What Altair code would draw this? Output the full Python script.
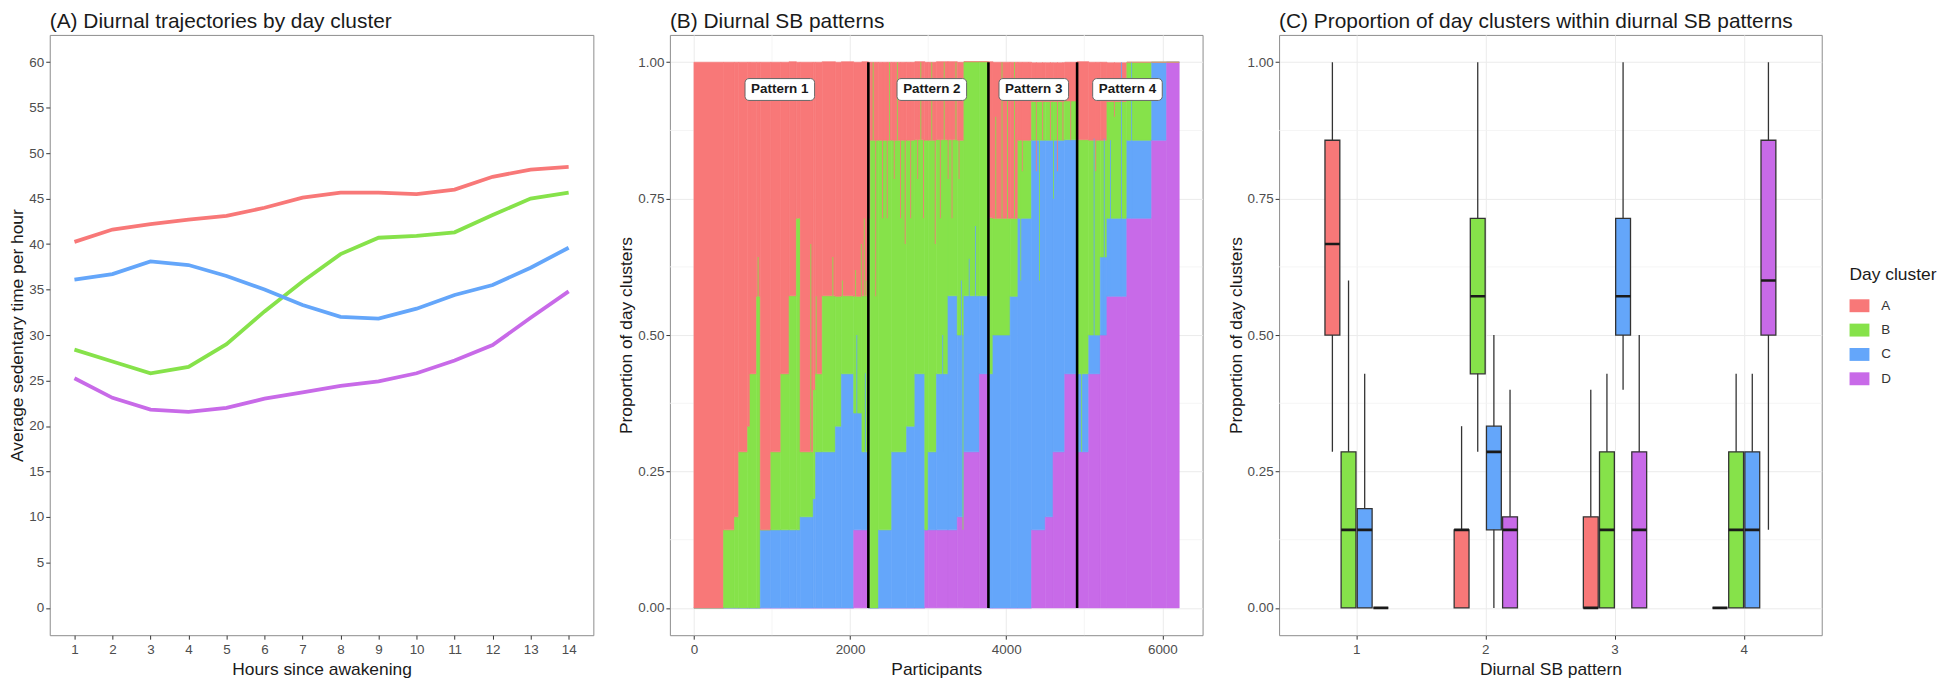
import altair as alt
import pandas as pd

# ---------------- shared ----------------
clusters = ["A", "B", "C", "D"]
cluster_colors = ["#F87878", "#86E24A", "#64A6FA", "#C86AE8"]
FONT = "Liberation Sans"

# ---------------- panel A data ----------------
hours = list(range(1, 15))
traj_A = [40.25, 41.6, 42.2, 42.7, 43.1, 44.0, 45.1, 45.65, 45.65, 45.5, 46.0, 47.4, 48.2, 48.5]
traj_B = [28.4, 27.1, 25.8, 26.5, 29.0, 32.6, 35.9, 38.9, 40.7, 40.9, 41.3, 43.2, 45.0, 45.65]
traj_C = [36.1, 36.7, 38.1, 37.7, 36.5, 35.0, 33.3, 32.0, 31.8, 32.9, 34.4, 35.5, 37.4, 39.6]
traj_D = [25.25, 23.1, 21.8, 21.55, 22.0, 23.0, 23.7, 24.4, 24.9, 25.8, 27.2, 28.9, 31.9, 34.8]
y_ticks_A = list(range(0, 61, 5))

# ---------------- panel B data (participants sorted, blocks of similar composition) ----------------
seg_start = [0, 379, 519, 574, 688, 718, 803, 850, 985, 1113, 1219, 1312, 1360, 1528, 1558, 1643, 1812, 1889, 2046, 2152,
             2234, 2260, 2364, 2533, 2724, 2830, 2957, 3000, 3106, 3254, 3373, 3458, 3657,
             3772, 3830, 4050, 4150, 4324, 4500, 4600, 4750,
             4908, 5057, 5205, 5290, 5545, 5863, 6054]
seg_end = seg_start[1:] + [6216]
prop_D = [0, 0, 0, 0, 0, 0, 0, 0, 0, 0, 0, 0, 0, 0, 0, 0, 0, 0, .143, .143,
          0, 0, 0, 0, 0, 0, .143, .143, .143, .143, .167, .286, .429,
          0, 0, 0, 0, .143, .167, .286, .429,
          .286, .429, .5, .571, .714, .857, 1]
prop_C = [0, 0, 0, 0, 0, 0, 0, .143, .143, .143, .143, .143, .167, .2, .286, .286, .333, .429, .214, .143,
          0, 0, .143, .286, .333, .429, 0, .143, .286, .429, .333, .286, .143,
          .429, .5, .571, .714, .714, .69, .571, .429,
          .143, .071, .143, .143, .143, .143, 0]
prop_B = [0, .143, .167, .286, .333, .429, .571, 0, .143, .286, .429, .571, .119, .2, .143, .286, .238, .143, .214, .286,
          .714, .857, .714, .571, .524, .429, .714, .571, .429, .286, .357, .429, .429,
          .286, .214, .143, .143, .071, .071, .071, .071,
          .429, .357, .214, .214, .143, 0, 0]
prop_A = [1, .857, .833, .714, .667, .571, .429, .857, .714, .571, .429, .286, .714, .6, .571, .429, .429, .429, .429, .429,
          .286, .143, .143, .143, .143, .143, .143, .143, .143, .143, .143, 0, 0,
          .286, .286, .286, .143, .071, .071, .071, .071,
          .143, .143, .143, .071, 0, 0, 0]

# thin slivers that cut through the blocks
sliver_start = [816, 1346, 1491, 1560, 1773, 1895, 2065, 2138, 2176, 2200, 2080, 2190,
                2322, 2410, 2470, 2560, 2640, 2700, 2770, 2860, 2935, 3085, 3150, 3250, 3300, 3390,
                2290, 2500, 2600, 2900, 3040, 3200, 3350, 3180, 3420, 3520, 3600, 3440,
                3860, 3940, 4010, 4100, 4200, 4280, 4380, 4460, 4560, 4650, 4720, 4820, 4180, 4420, 4600,
                5120, 5250, 5330, 5470, 5600, 5140, 5220, 5380, 4960]
sliver_cluster = ["B", "B", "B", "B", "B", "B", "B", "B", "B", "B", "C", "C",
                  "A", "A", "A", "A", "A", "A", "A", "A", "A", "A", "A", "A", "A", "A",
                  "B", "B", "B", "B", "B", "B", "B", "C", "C", "C", "C", "B",
                  "B", "B", "B", "B", "A", "A", "A", "A", "A", "A", "A", "A", "B", "B", "B",
                  "C", "C", "C", "C", "C", "A", "A", "A", "B"]
sliver_lo = [.429, .571, .2, .286, .571, .571, .429, .571, .571, .571, .286, .286,
             .571, .714, .714, .786, .714, .667, .714, .786, .714, .667, .714, .786, .714, .786,
             .857, .857, .857, .857, .857, .857, .857, .286, .3, .5, .571, .143,
             .714, .714, .714, .714, .8, .857, .8, .857, .857, .8, .857, .857, .6, .6, .75,
             .43, .5, .571, .571, .714, .8, .857, .9, .286]
sliver_hi = [.643, .714, .667, .571, .643, .6, .619, .667, .714, .6, .5, .43,
             1, 1, 1, 1, 1, 1, 1, 1, 1, 1, 1, 1, 1, 1,
             1, 1, 1, 1, 1, 1, 1, .5, .6, .64, .7, .5,
             .9, 1, .95, 1, 1, 1, 1, 1, 1, 1, 1, 1, .857, .857, .857,
             .86, .86, .857, 1, 1, 1, 1, 1, .5]
sliver_width = 12

pattern_bounds = [2234, 3772, 4908]
pattern_labels = ["Pattern 1", "Pattern 2", "Pattern 3", "Pattern 4"]
pattern_label_x = [1100, 3047, 4353, 5553]
pattern_label_y = 0.95

prop_ticks = [0, 0.25, 0.5, 0.75, 1.0]
prop_minor = [0.125, 0.375, 0.625, 0.875]
part_ticks = [0, 2000, 4000, 6000]
part_minor = [1000, 3000, 5000]

# ---------------- panel C data ----------------
box_pattern = ["1"] * 4 + ["2"] * 4 + ["3"] * 4 + ["4"] * 4
box_cluster = clusters * 4
box_lo = [.286, 0, 0, 0, 0, .286, 0, 0, 0, 0, .4, 0, 0, 0, 0, .143]
box_q1 = [.5, 0, 0, 0, 0, .429, .143, 0, 0, 0, .5, 0, 0, 0, 0, .5]
box_med = [.667, .143, .143, 0, .143, .571, .286, .143, 0, .143, .571, .143, 0, .143, .143, .6]
box_q3 = [.857, .286, .182, 0, .143, .714, .333, .167, .167, .286, .714, .286, 0, .286, .286, .857]
box_hi = [1, .6, .429, 0, .333, 1, .5, .4, .4, .429, 1, .5, 0, .429, .429, 1]

# ---------------- build ----------------
color_scale = alt.Scale(domain=clusters, range=cluster_colors)

W_A, W_B, W_C, H = 547, 536, 546, 604

def ptitle(text):
    return alt.TitleParams(text, anchor="start", frame="group", fontSize=21, font=FONT,
                           fontWeight="normal", color="#1a1a1a", offset=3)

# Panel A
dfA = pd.DataFrame({
    "hour": hours * 4,
    "value": traj_A + traj_B + traj_C + traj_D,
    "cluster": [c for c in clusters for _ in hours],
})
panelA = alt.Chart(dfA).mark_line(strokeWidth=3.8).encode(
    x=alt.X("hour:Q", scale=alt.Scale(domain=[0.35, 14.65], nice=False, zero=False),
            axis=alt.Axis(values=hours, format="d", grid=False, title="Hours since awakening")),
    y=alt.Y("value:Q", scale=alt.Scale(domain=[-3, 63], nice=False),
            axis=alt.Axis(values=y_ticks_A, format="d", grid=False, title="Average sedentary time per hour")),
    color=alt.Color("cluster:N", scale=color_scale, legend=None),
    detail="cluster:N",
).properties(width=W_A, height=H, title=ptitle("(A) Diurnal trajectories by day cluster"))

# Panel B
rows = []
order_map = {"D": 0, "C": 1, "B": 2, "A": 3}
for i in range(len(seg_start)):
    for c, arr in (("D", prop_D), ("C", prop_C), ("B", prop_B), ("A", prop_A)):
        rows.append({"start": seg_start[i], "end": seg_end[i], "cluster": c,
                     "prop": arr[i], "ord": order_map[c]})
dfB = pd.DataFrame(rows)
dfS = pd.DataFrame({"start": sliver_start, "end": [s + sliver_width for s in sliver_start],
                    "cluster": sliver_cluster, "lo": sliver_lo, "hi": sliver_hi})

xB = alt.Scale(domain=[-308, 6515], nice=False, zero=False)
yP = alt.Scale(domain=[-0.05, 1.05], nice=False, zero=False)
axYP = alt.Axis(values=prop_ticks, format=".2f", grid=True, title="Proportion of day clusters")
axXB = alt.Axis(values=part_ticks, format="d", grid=True, title="Participants")

gridB_y = alt.Chart(pd.DataFrame({"v": prop_minor})).mark_rule(color="#f3f3f3", strokeWidth=0.8).encode(
    y=alt.Y("v:Q", scale=yP, axis=axYP))
gridB_x = alt.Chart(pd.DataFrame({"v": part_minor})).mark_rule(color="#f3f3f3", strokeWidth=0.8).encode(
    x=alt.X("v:Q", scale=xB, axis=axXB))

barsB = alt.Chart(dfB).transform_stack(
    stack="prop", groupby=["start"], as_=["y0", "y1"],
    sort=[alt.SortField("ord", order="ascending")]
).mark_rect(strokeWidth=0.6).encode(
    x=alt.X("start:Q", scale=xB, axis=axXB),
    x2="end:Q",
    y=alt.Y("y0:Q", scale=yP, axis=axYP),
    y2="y1:Q",
    color=alt.Color("cluster:N", scale=color_scale, legend=None),
    stroke=alt.Stroke("cluster:N", scale=color_scale, legend=None),
)
sliversB = alt.Chart(dfS).mark_rect(opacity=0.85).encode(
    x=alt.X("start:Q", scale=xB, axis=axXB), x2="end:Q",
    y=alt.Y("lo:Q", scale=yP, axis=axYP), y2="hi:Q",
    color=alt.Color("cluster:N", scale=color_scale, legend=None),
)
linesB = alt.Chart(pd.DataFrame({"b": pattern_bounds})).mark_rule(color="black", strokeWidth=2.6).encode(
    x=alt.X("b:Q", scale=xB, axis=axXB), y=alt.datum(0.0), y2=alt.datum(1.0))
dfL = pd.DataFrame({"cx": pattern_label_x, "label": pattern_labels})
boxesB = alt.Chart(dfL).mark_rect(fill="white", stroke="#666666", strokeWidth=1, cornerRadius=4,
                                   xOffset=-35, x2Offset=35, yOffset=-11, y2Offset=11).encode(
    x=alt.X("cx:Q", scale=xB, axis=axXB), x2="cx:Q",
    y=alt.datum(pattern_label_y), y2=alt.datum(pattern_label_y))
textB = alt.Chart(dfL).mark_text(font=FONT, fontSize=13.5, fontWeight="bold", color="#1a1a1a",
                                 baseline="middle", align="center").encode(
    x=alt.X("cx:Q", scale=xB, axis=axXB), y=alt.datum(pattern_label_y), text="label:N")

panelB = alt.layer(gridB_y, gridB_x, barsB, sliversB, linesB, boxesB, textB).properties(
    width=W_B, height=H, title=ptitle("(B) Diurnal SB patterns"))

# Panel C
dfC = pd.DataFrame({"pattern": box_pattern, "cluster": box_cluster, "lo": box_lo, "q1": box_q1,
                    "med": box_med, "q3": box_q3, "hi": box_hi})
xC = alt.Scale(domain=["1", "2", "3", "4"], paddingInner=0.5, paddingOuter=0.35)
offC = alt.Scale(domain=clusters, paddingInner=0.08, paddingOuter=0.04)
axXC = alt.Axis(labelAngle=0, grid=True, title="Diurnal SB pattern")

gridC_y = alt.Chart(pd.DataFrame({"v": prop_minor})).mark_rule(color="#f3f3f3", strokeWidth=0.8).encode(
    y=alt.Y("v:Q", scale=yP, axis=axYP))
whisk = alt.Chart(dfC).mark_rule(color="#333333", strokeWidth=1.3).encode(
    x=alt.X("pattern:N", scale=xC, axis=axXC),
    xOffset=alt.XOffset("cluster:N", scale=offC),
    y=alt.Y("lo:Q", scale=yP, axis=axYP),
    y2="hi:Q",
)
boxC = alt.Chart(dfC).mark_bar(stroke="#333333", strokeWidth=1.3).encode(
    x=alt.X("pattern:N", scale=xC, axis=axXC),
    xOffset=alt.XOffset("cluster:N", scale=offC),
    y=alt.Y("q1:Q", scale=yP, axis=axYP), y2="q3:Q",
    color=alt.Color("cluster:N", scale=color_scale,
                    legend=alt.Legend(title="Day cluster", orient="none", legendX=574, legendY=233,
                                      symbolType="M-1,-0.65H1V0.65H-1Z", symbolSize=400,
                                      symbolStrokeWidth=0, rowPadding=7.5, titlePadding=12,
                                      titleFontSize=17.5, titleFont=FONT, titleFontWeight="normal",
                                      titleColor="#1a1a1a", labelFontSize=13.5, labelFont=FONT,
                                      labelColor="#333333", labelOffset=12)),
)
medC = alt.Chart(dfC).mark_bar(stroke="#1a1a1a", strokeWidth=2.6).encode(
    x=alt.X("pattern:N", scale=xC, axis=axXC),
    xOffset=alt.XOffset("cluster:N", scale=offC),
    y=alt.Y("med:Q", scale=yP, axis=axYP), y2="med:Q",
)
panelC = alt.layer(gridC_y, whisk, boxC, medC).properties(
    width=W_C, height=H, title=ptitle("(C) Proportion of day clusters within diurnal SB patterns"))

chart = alt.hconcat(panelA, panelB, panelC, spacing=23).resolve_legend(
    color="independent"
).properties(
    padding={"left": 0, "top": 0, "right": 0, "bottom": 0}
).configure_view(
    stroke="#8c8c8c", strokeWidth=1
).configure_axis(
    labelFont=FONT, titleFont=FONT, labelFontSize=13.5, titleFontSize=17.5,
    labelColor="#4d4d4d", titleColor="#1a1a1a", titleFontWeight="normal",
    domain=False, tickColor="#333333", tickSize=4, tickWidth=1,
    gridColor="#ebebeb", gridWidth=1,
).configure_axisX(
    labelPadding=3, titlePadding=5
).configure_axisY(
    labelPadding=2, titlePadding=2
).configure_text(font=FONT)

chart.save("out.html", embed_options={"renderer": "svg", "actions": False})
